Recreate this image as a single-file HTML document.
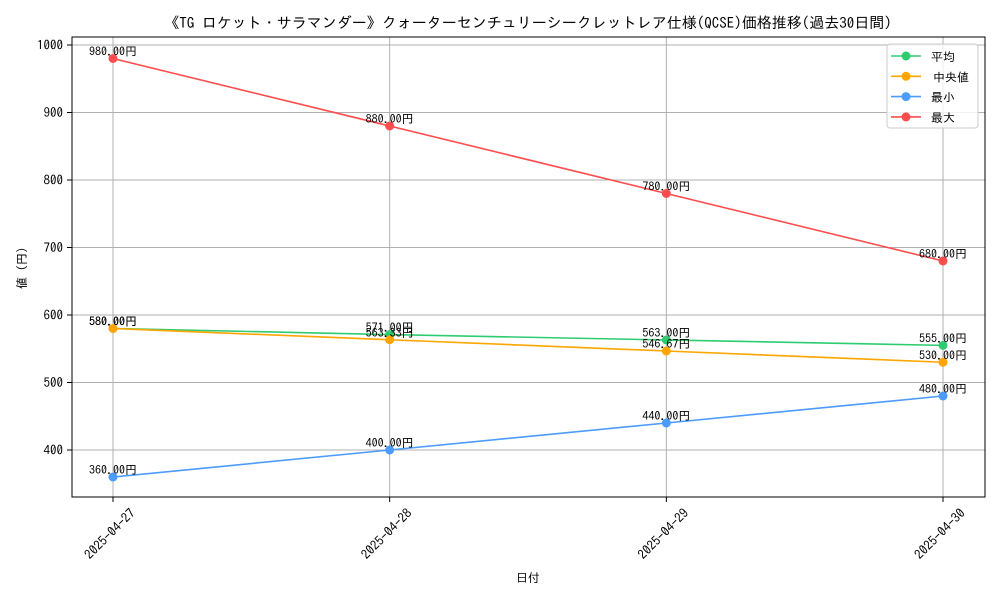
<!DOCTYPE html>
<html><head><meta charset="utf-8">
<style>
html,body{margin:0;padding:0;background:#fff;}
svg{display:block;font-family:"IPAGothic","Liberation Sans","Noto Sans CJK JP",sans-serif;}
</style></head><body>
<svg id="chart" width="1000" height="600" viewBox="0 0 1000 600" xmlns="http://www.w3.org/2000/svg">
<rect width="1000" height="600" fill="#fff"/>
<text x="528" y="28" font-size="15" text-anchor="middle" fill="#000">《TG ロケット・サラマンダー》クォーターセンチュリーシークレットレア仕様(QCSE)価格推移(過去30日間)</text>
<g id="grid"></g>
<g id="series"></g>
<rect x="72" y="37" width="913" height="460" fill="none" stroke="#000" stroke-width="1"/>
<g id="axes"></g>
<text x="528" y="582" font-size="12" text-anchor="middle">日付</text>
<text transform="translate(26,268) rotate(-90)" font-size="12" text-anchor="middle">値 (円)</text>
<g id="legend"></g>
</svg>
<script>
const categories = ["2025-04-27","2025-04-28","2025-04-29","2025-04-30"];
const avgValues = [580, 571, 563, 555];
const medianValues = [580, 563.33, 546.67, 530];
const minValues = [360, 400, 440, 480];
const maxValues = [980, 880, 780, 680];
const yTicks = [400, 500, 600, 700, 800, 900, 1000];
const seriesNames = ["平均", "中央値", "最小", "最大"];

const NS = "http://www.w3.org/2000/svg";
const X0 = 113, XSTEP = 276.67;
function xPos(i){ return X0 + i*XSTEP; }
function yPos(v){ return 450 - (v-400)*0.675; }
function mk(tag, attrs, parent){ const e=document.createElementNS(NS,tag); for(const k in attrs) e.setAttribute(k,attrs[k]); parent.appendChild(e); return e; }

const grid=document.getElementById('grid'), axes=document.getElementById('axes'), ser=document.getElementById('series'), leg=document.getElementById('legend');
categories.forEach((c,i)=>{
  const x=xPos(i);
  const g=mk('line',{x1:x,x2:x,y1:37,y2:497,stroke:'#b0b0b0','stroke-width':1},grid);
  
  
  mk('line',{x1:x,x2:x,y1:497,y2:502,stroke:'#000'},axes);
  const t=mk('text',{'font-size':13,'text-anchor':'middle',transform:`translate(${x},${537}) rotate(-45)`},axes);
  t.textContent=c;
  
  
});
yTicks.forEach(v=>{
  const y=yPos(v);
  const g=mk('line',{x1:72,x2:985,y1:y,y2:y,stroke:'#b0b0b0','stroke-width':1},grid);
  
  
  mk('line',{x1:67,x2:72,y1:y,y2:y,stroke:'#000'},axes);
  const t=mk('text',{x:63,y:y+4.5,'font-size':13,'text-anchor':'end'},axes);
  t.textContent=v;
  
  
});
const seriesData=[avgValues, medianValues, minValues, maxValues];
const colors=["#2ecc71","#ffa500","#4c9bff","#ff4d4d"];
const keys=["avg","median","min","max"];
seriesData.forEach((vals,s)=>{
  const g=mk('g',{},ser);
  
  
  const pts=vals.map((v,i)=>xPos(i)+','+yPos(v)).join(' ');
  const pl=mk('polyline',{points:pts,fill:'none',stroke:colors[s],'stroke-width':1.6},g);
  
  
  vals.forEach((v,i)=>{
    const c=mk('circle',{cx:xPos(i),cy:yPos(v),r:4.5,fill:colors[s]},g);
    
    
    const t=mk('text',{x:xPos(i),y:yPos(v)-3,'font-size':12,'text-anchor':'middle',fill:'#000'},g);
    t.textContent=v.toFixed(2)+'円';
    
    
  });
});
const lb=mk('rect',{x:887,y:44,width:91,height:84,rx:3,fill:'#fff','fill-opacity':0.8,stroke:'#ccc'},leg);


seriesNames.forEach((n,s)=>{
  const y=56+s*20.3;
  const g=mk('g',{},leg);
  
  
  mk('line',{x1:891,x2:921,y1:y,y2:y,stroke:colors[s],'stroke-width':1.6},g);
  mk('circle',{cx:906,cy:y,r:4.5,fill:colors[s]},g);
  const t=mk('text',{x:s===1?933:931,y:y+5,'font-size':12},g);
  t.textContent=n;
});
</script>
</body></html>
